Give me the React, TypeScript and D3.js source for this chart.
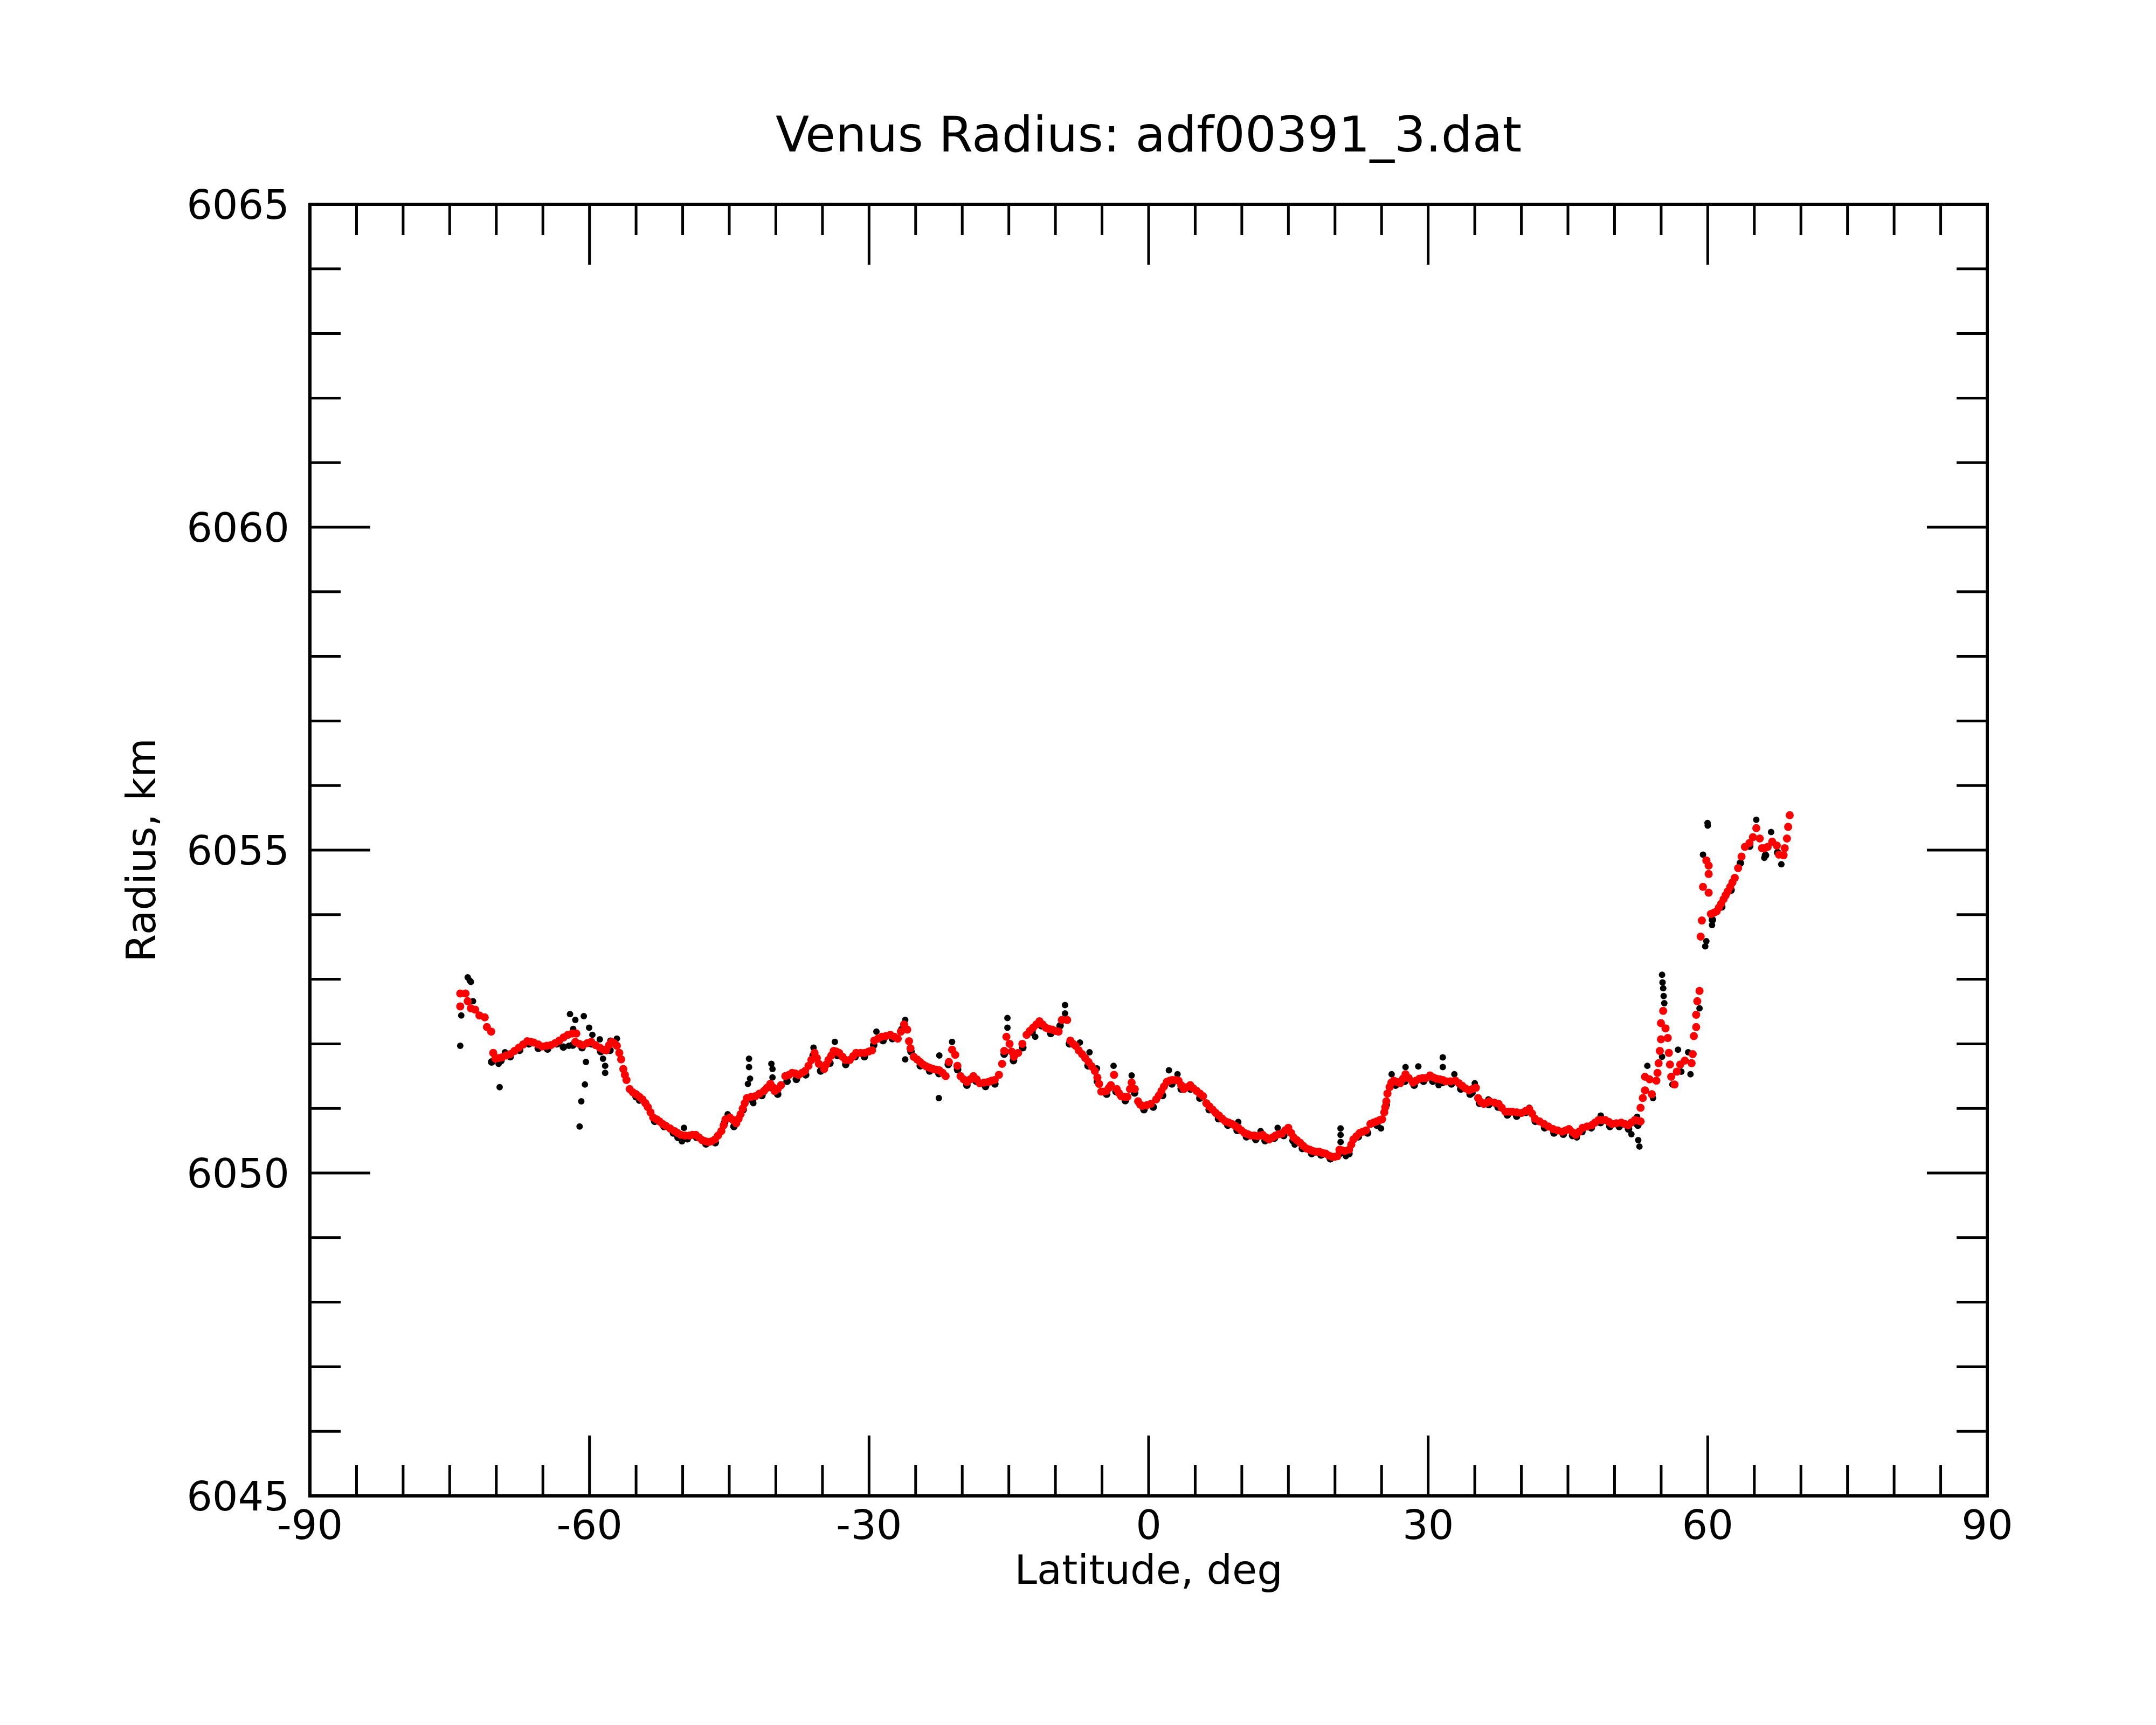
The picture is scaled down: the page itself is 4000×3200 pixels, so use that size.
import React from 'react';
import * as d3 from 'd3';

// smoothed radius profile (red), [latitude deg, radius km]
const redTrace: [number, number][] = [
  [-73.87, 6052.58], [-73.87, 6052.78], [-73.3, 6052.78], [-73.07, 6052.66], [-72.73, 6052.55],
  [-72.27, 6052.53], [-71.81, 6052.44], [-71.24, 6052.41], [-71.01, 6052.26], [-70.55, 6052.19],
  [-70.33, 6051.86], [-70.1, 6051.77], [-69.75, 6051.78], [-69.41, 6051.79], [-68.95, 6051.82],
  [-68.5, 6051.84], [-68.05, 6051.89], [-67.58, 6051.94], [-67.12, 6051.99], [-66.67, 6052.04],
  [-66.3, 6052.03], [-65.98, 6052.02], [-65.5, 6051.99], [-65.07, 6051.96], [-64.6, 6051.97],
  [-64.15, 6051.98], [-63.7, 6052.01], [-63.24, 6052.05], [-62.78, 6052.1], [-62.32, 6052.14],
  [-61.85, 6052.16], [-61.41, 6052.16], [-61.52, 6052.03], [-61.1, 6052.0], [-60.72, 6051.98],
  [-60.25, 6052.01], [-59.81, 6052.03], [-59.35, 6051.98], [-58.89, 6051.94], [-58.5, 6051.91],
  [-58.2, 6051.9], [-57.9, 6051.98], [-57.63, 6052.03], [-57.35, 6052.01], [-57.06, 6051.97],
  [-56.8, 6051.86], [-56.6, 6051.76], [-56.37, 6051.61], [-56.2, 6051.52], [-56.03, 6051.44],
  [-55.69, 6051.3], [-55.35, 6051.25], [-55.0, 6051.22], [-54.65, 6051.18], [-54.32, 6051.14],
  [-54.0, 6051.08], [-53.74, 6051.02], [-53.45, 6050.94], [-53.17, 6050.86], [-52.8, 6050.83],
  [-52.49, 6050.8], [-52.15, 6050.76], [-51.8, 6050.73], [-51.35, 6050.69], [-50.88, 6050.65],
  [-50.55, 6050.62], [-50.2, 6050.59], [-49.75, 6050.58], [-49.28, 6050.58], [-48.95, 6050.59],
  [-48.6, 6050.59], [-48.25, 6050.55], [-47.91, 6050.51], [-47.55, 6050.49], [-47.22, 6050.48],
  [-46.9, 6050.49], [-46.54, 6050.52], [-46.2, 6050.58], [-45.85, 6050.65], [-45.6, 6050.74],
  [-45.4, 6050.83], [-44.94, 6050.86], [-44.6, 6050.82], [-44.25, 6050.77], [-44.0, 6050.84],
  [-43.79, 6050.91], [-43.55, 6051.0], [-43.34, 6051.08], [-43.11, 6051.16], [-42.65, 6051.18],
  [-42.19, 6051.19], [-41.75, 6051.23], [-41.28, 6051.27], [-40.95, 6051.32], [-40.59, 6051.38],
  [-40.35, 6051.33], [-40.13, 6051.27], [-39.8, 6051.3], [-39.45, 6051.36], [-38.99, 6051.5],
  [-38.6, 6051.52], [-38.25, 6051.55], [-37.9, 6051.54], [-37.56, 6051.52], [-37.2, 6051.55],
  [-36.87, 6051.58], [-36.5, 6051.66], [-36.19, 6051.75], [-35.85, 6051.86], [-35.6, 6051.78],
  [-35.39, 6051.69], [-34.82, 6051.61], [-34.6, 6051.68], [-34.36, 6051.75], [-34.05, 6051.82],
  [-33.79, 6051.89], [-33.5, 6051.88], [-33.21, 6051.86], [-32.85, 6051.8], [-32.53, 6051.75],
  [-32.07, 6051.75], [-31.7, 6051.81], [-31.38, 6051.86], [-30.9, 6051.86], [-30.47, 6051.86],
  [-30.05, 6051.88], [-29.67, 6051.9], [-29.44, 6052.05], [-29.05, 6052.08], [-28.64, 6052.11],
  [-28.2, 6052.12], [-27.72, 6052.14], [-27.3, 6052.11], [-26.92, 6052.08], [-26.58, 6052.19],
  [-26.24, 6052.3], [-25.9, 6052.22], [-25.71, 6052.04], [-25.55, 6051.93], [-25.21, 6051.8],
  [-24.85, 6051.76], [-24.52, 6051.72], [-24.2, 6051.68], [-23.84, 6051.65], [-23.5, 6051.63],
  [-23.15, 6051.61], [-22.8, 6051.6], [-22.46, 6051.59], [-22.1, 6051.55], [-21.78, 6051.5],
  [-21.43, 6051.72], [-21.09, 6051.91], [-20.75, 6051.83], [-20.52, 6051.66], [-20.18, 6051.5],
  [-19.85, 6051.45], [-19.49, 6051.41], [-19.15, 6051.45], [-18.8, 6051.5], [-18.45, 6051.45],
  [-18.12, 6051.39], [-17.65, 6051.4], [-17.2, 6051.41], [-16.85, 6051.43], [-16.52, 6051.44],
  [-16.06, 6051.52], [-15.72, 6051.69], [-15.49, 6051.89], [-15.26, 6052.11], [-14.92, 6052.0],
  [-14.7, 6051.88], [-14.46, 6051.8], [-14.0, 6051.86], [-13.55, 6052.0], [-13.09, 6052.14],
  [-12.75, 6052.2], [-12.4, 6052.25], [-12.05, 6052.3], [-11.71, 6052.35], [-11.37, 6052.3],
  [-11.03, 6052.25], [-10.7, 6052.23], [-10.34, 6052.22], [-10.0, 6052.2], [-9.66, 6052.19],
  [-9.31, 6052.37], [-8.74, 6052.37], [-8.4, 6052.05], [-8.1, 6052.0], [-7.83, 6051.97],
  [-7.5, 6051.9], [-7.14, 6051.84], [-6.8, 6051.78], [-6.45, 6051.72], [-6.1, 6051.65],
  [-5.77, 6051.58], [-5.5, 6051.48], [-5.31, 6051.38], [-5.08, 6051.26], [-4.8, 6051.26],
  [-4.51, 6051.27], [-4.25, 6051.32], [-4.05, 6051.36], [-3.71, 6051.52], [-3.42, 6051.3],
  [-3.2, 6051.24], [-2.96, 6051.19], [-2.6, 6051.18], [-2.28, 6051.18], [-2.0, 6051.3],
  [-1.82, 6051.4], [-1.48, 6051.3], [-1.13, 6051.11], [-0.9, 6051.06], [-0.68, 6051.04],
  [-0.2, 6051.05], [0.24, 6051.07], [0.81, 6051.14], [1.1, 6051.2], [1.38, 6051.27],
  [1.65, 6051.34], [1.95, 6051.41], [2.25, 6051.43], [2.53, 6051.44], [2.9, 6051.44],
  [3.21, 6051.43], [3.5, 6051.36], [3.78, 6051.3], [4.12, 6051.33], [4.47, 6051.36],
  [4.8, 6051.31], [5.16, 6051.27], [5.5, 6051.23], [5.84, 6051.19], [6.19, 6051.08],
  [6.52, 6051.03], [6.87, 6050.98], [7.2, 6050.93], [7.56, 6050.89], [7.9, 6050.84],
  [8.24, 6050.8], [8.6, 6050.78], [8.93, 6050.76], [9.3, 6050.73], [9.62, 6050.7],
  [9.95, 6050.66], [10.3, 6050.62], [10.65, 6050.6], [10.99, 6050.58], [11.35, 6050.58],
  [11.67, 6050.57], [11.95, 6050.58], [12.25, 6050.59], [12.6, 6050.55], [12.93, 6050.52],
  [13.3, 6050.55], [13.62, 6050.58], [13.95, 6050.6], [14.31, 6050.61], [14.65, 6050.66],
  [14.99, 6050.7], [15.3, 6050.62], [15.56, 6050.55], [15.9, 6050.51], [16.25, 6050.47],
  [16.6, 6050.42], [16.94, 6050.38], [17.3, 6050.36], [17.62, 6050.34], [17.95, 6050.33],
  [18.31, 6050.33], [18.65, 6050.31], [19.0, 6050.3], [19.35, 6050.27], [19.68, 6050.25],
  [19.95, 6050.25], [20.25, 6050.26], [20.48, 6050.36], [20.75, 6050.35], [21.05, 6050.34],
  [21.51, 6050.36], [21.75, 6050.44], [21.97, 6050.52], [22.3, 6050.57], [22.65, 6050.62],
  [23.0, 6050.64], [23.34, 6050.66], [23.8, 6050.76], [24.15, 6050.78], [24.48, 6050.8],
  [24.8, 6050.82], [25.06, 6050.83], [25.29, 6050.94], [25.4, 6051.02], [25.51, 6051.11],
  [25.63, 6051.23], [25.86, 6051.33], [26.05, 6051.4], [26.31, 6051.43], [26.65, 6051.41],
  [27.0, 6051.39], [27.3, 6051.46], [27.57, 6051.53], [27.91, 6051.47], [28.37, 6051.4],
  [28.7, 6051.43], [29.06, 6051.46], [29.4, 6051.47], [29.74, 6051.47], [30.2, 6051.51],
  [30.55, 6051.48], [30.89, 6051.46], [31.25, 6051.45], [31.57, 6051.44], [31.9, 6051.42],
  [32.4, 6051.42], [32.93, 6051.43], [33.3, 6051.39], [33.66, 6051.35], [34.0, 6051.31],
  [34.39, 6051.28], [34.75, 6051.3], [35.12, 6051.32], [35.36, 6051.16], [35.65, 6051.1],
  [35.97, 6051.07], [36.3, 6051.09], [36.58, 6051.11], [37.1, 6051.09], [37.56, 6051.07],
  [37.9, 6051.01], [38.29, 6050.95], [38.65, 6050.95], [39.02, 6050.95], [39.5, 6050.94],
  [40.0, 6050.93], [40.45, 6050.96], [40.85, 6050.99], [41.15, 6050.92], [41.46, 6050.84],
  [41.95, 6050.8], [42.43, 6050.76], [42.9, 6050.72], [43.41, 6050.68], [43.9, 6050.66],
  [44.38, 6050.64], [44.75, 6050.66], [45.11, 6050.68], [45.5, 6050.63], [45.84, 6050.59],
  [46.2, 6050.64], [46.57, 6050.7], [47.05, 6050.72], [47.55, 6050.74], [47.9, 6050.78],
  [48.28, 6050.82], [48.65, 6050.82], [49.01, 6050.82], [49.4, 6050.79], [49.74, 6050.76],
  [50.2, 6050.77], [50.72, 6050.78], [51.1, 6050.76], [51.45, 6050.74], [51.8, 6050.78],
  [52.18, 6050.82], [52.5, 6050.81], [52.79, 6050.8], [52.79, 6051.01], [53.03, 6051.16],
  [53.27, 6051.28], [53.27, 6051.49], [53.76, 6051.45], [54.0, 6051.22], [54.49, 6051.43],
  [54.61, 6051.55], [54.73, 6051.7], [54.86, 6051.89], [54.98, 6052.07], [54.98, 6052.32],
  [55.22, 6052.51], [55.47, 6052.24], [55.71, 6052.09], [55.83, 6051.86], [55.95, 6051.68],
  [56.08, 6051.49], [56.44, 6051.37], [56.69, 6051.57], [57.05, 6051.68], [57.54, 6051.74],
  [58.27, 6051.7], [58.39, 6051.84], [58.51, 6052.12], [58.76, 6052.26], [58.76, 6052.45],
  [58.88, 6052.66], [59.12, 6052.82], [59.24, 6053.66], [59.37, 6053.91], [59.49, 6054.43],
  [59.85, 6054.84], [60.1, 6054.76], [60.1, 6054.63], [60.1, 6054.34], [60.34, 6054.01],
  [60.65, 6054.03], [60.95, 6054.05], [61.2, 6054.11], [61.44, 6054.17], [61.7, 6054.24],
  [61.92, 6054.3], [62.15, 6054.36], [62.41, 6054.43], [62.65, 6054.5], [62.9, 6054.57],
  [63.26, 6054.72], [63.63, 6054.9], [63.99, 6055.05], [64.48, 6055.11], [64.85, 6055.2],
  [65.21, 6055.34], [65.58, 6055.18], [65.82, 6055.03], [66.1, 6055.03], [66.43, 6055.05],
  [66.92, 6055.13], [67.41, 6055.07], [67.65, 6054.93], [68.14, 6054.92], [68.26, 6055.03],
  [68.5, 6055.18], [68.63, 6055.36], [68.8, 6055.54],
];

// raw radius samples (black) lying just under the red profile
const blackTrace: [number, number][] = [
  [-70.5, 6051.72], [-69.5, 6051.74], [-68.5, 6051.8], [-67.5, 6051.9], [-66.5, 6052.0],
  [-65.5, 6051.93], [-64.5, 6051.92], [-63.5, 6052.0], [-62.8, 6051.95], [-61.8, 6051.98],
  [-60.8, 6051.94], [-59.8, 6052.0], [-58.8, 6051.88], [-57.8, 6051.9], [-55.0, 6051.18],
  [-54.0, 6051.08], [-53.0, 6050.8], [-52.0, 6050.72], [-51.0, 6050.62], [-50.5, 6050.55],
  [-49.5, 6050.53], [-48.5, 6050.55], [-47.5, 6050.45], [-46.5, 6050.47], [-45.5, 6050.78],
  [-44.5, 6050.72], [-43.5, 6050.98], [-42.5, 6051.12], [-41.5, 6051.2], [-40.5, 6051.32],
  [-39.8, 6051.22], [-38.8, 6051.42], [-37.8, 6051.45], [-36.8, 6051.52], [-36.0, 6051.82],
  [-35.2, 6051.58], [-34.2, 6051.7], [-33.4, 6051.82], [-32.5, 6051.68], [-31.5, 6051.8],
  [-30.5, 6051.8], [-29.5, 6051.98], [-28.5, 6052.05], [-27.5, 6052.08], [-26.5, 6052.22],
  [-25.5, 6051.88], [-24.5, 6051.66], [-23.5, 6051.58], [-22.5, 6051.54], [-21.5, 6051.68],
  [-20.5, 6051.6], [-19.5, 6051.36], [-18.5, 6051.42], [-17.5, 6051.34], [-16.5, 6051.38],
  [-15.5, 6051.84], [-14.5, 6051.74], [-13.5, 6051.94], [-12.5, 6052.18], [-11.5, 6052.28],
  [-10.5, 6052.16], [-9.5, 6052.28], [-8.5, 6052.0], [-7.5, 6051.9], [-6.5, 6051.66],
  [-5.5, 6051.42], [-4.5, 6051.22], [-3.5, 6051.26], [-2.5, 6051.12], [-1.5, 6051.24],
  [-0.5, 6050.98], [0.5, 6051.02], [1.5, 6051.2], [2.5, 6051.38], [3.5, 6051.3],
  [4.5, 6051.3], [5.5, 6051.16], [6.5, 6050.98], [7.5, 6050.84], [8.5, 6050.74],
  [9.5, 6050.66], [10.5, 6050.56], [11.5, 6050.52], [12.5, 6050.5], [13.5, 6050.54],
  [14.5, 6050.58], [15.5, 6050.5], [16.5, 6050.38], [17.5, 6050.3], [18.5, 6050.28],
  [19.5, 6050.22], [20.5, 6050.3], [21.5, 6050.3], [22.5, 6050.56], [23.5, 6050.62],
  [24.5, 6050.74], [25.5, 6051.06], [26.5, 6051.36], [27.5, 6051.42], [28.5, 6051.36],
  [29.5, 6051.42], [30.5, 6051.42], [31.5, 6051.4], [32.5, 6051.38], [33.5, 6051.3],
  [34.5, 6051.22], [35.5, 6051.08], [36.5, 6051.06], [37.5, 6051.02], [38.5, 6050.9],
  [39.5, 6050.88], [40.5, 6050.94], [41.5, 6050.8], [42.5, 6050.7], [43.5, 6050.62],
  [44.5, 6050.6], [45.5, 6050.58], [46.5, 6050.64], [47.5, 6050.7], [48.5, 6050.78],
  [49.5, 6050.72], [50.5, 6050.72], [51.5, 6050.68], [52.5, 6050.74], [60.5, 6053.92],
  [61.5, 6054.12], [62.5, 6054.38], [63.5, 6054.8], [64.5, 6055.06], [66.2, 6054.92],
  [67.5, 6054.96],
];

// raw samples (black) that stand away from the red profile
const blackOutliers: [number, number][] = [
  [-73.87, 6051.97], [-73.76, 6052.44], [-73.07, 6053.03], [-72.85, 6052.98], [-72.73, 6052.96],
  [-72.5, 6052.66], [-69.75, 6051.69], [-69.64, 6051.33], [-69.07, 6051.87], [-62.21, 6051.97],
  [-62.09, 6052.46], [-61.75, 6052.23], [-61.52, 6052.37], [-61.06, 6050.72], [-60.88, 6051.11],
  [-60.61, 6052.43], [-60.49, 6051.37], [-60.38, 6051.72], [-60.04, 6052.25], [-59.69, 6052.14],
  [-58.89, 6052.07], [-58.55, 6051.77], [-58.32, 6051.66], [-58.32, 6051.55], [-57.75, 6052.05],
  [-57.06, 6052.08], [-54.66, 6051.12], [-50.08, 6050.49], [-49.86, 6050.7], [-45.17, 6050.91],
  [-43.0, 6051.38], [-42.88, 6051.77], [-42.88, 6051.64], [-42.77, 6051.46], [-42.42, 6051.08],
  [-40.48, 6051.69], [-40.36, 6051.61], [-40.36, 6051.48], [-35.96, 6051.94], [-33.67, 6052.03],
  [-29.21, 6052.19], [-26.12, 6052.37], [-26.12, 6051.76], [-22.46, 6051.82], [-22.51, 6051.16],
  [-21.09, 6052.03], [-15.15, 6052.4], [-15.15, 6052.25], [-12.17, 6052.11], [-8.97, 6052.6],
  [-8.97, 6052.47], [-7.37, 6052.02], [-6.34, 6051.87], [-5.54, 6051.62], [-3.76, 6051.66],
  [-1.82, 6051.51], [2.18, 6051.59], [3.1, 6051.53], [9.62, 6050.79], [12.02, 6050.65],
  [13.85, 6050.7], [15.68, 6050.44], [20.6, 6050.69], [20.6, 6050.59], [20.6, 6050.48],
  [21.17, 6050.26], [24.94, 6050.69], [26.08, 6051.53], [27.57, 6051.64], [28.94, 6051.65],
  [31.57, 6051.79], [31.57, 6051.64], [31.12, 6051.36], [32.81, 6051.53], [34.76, 6051.24],
  [35.0, 6051.39], [36.46, 6051.14], [40.85, 6051.01], [45.96, 6050.55], [48.52, 6050.89],
  [51.81, 6050.6], [52.42, 6050.87], [52.54, 6050.51], [52.67, 6050.41], [53.52, 6051.66],
  [54.13, 6051.16], [55.1, 6053.07], [55.15, 6052.95], [55.22, 6052.86], [55.27, 6052.74],
  [55.34, 6052.63], [55.1, 6051.8], [56.2, 6051.37], [56.81, 6051.91], [57.17, 6051.57],
  [57.9, 6051.87], [58.15, 6051.53], [59.12, 6052.55], [59.49, 6054.93], [59.73, 6053.51],
  [59.85, 6053.59], [59.98, 6055.42], [60.0, 6055.38], [60.46, 6053.84], [65.21, 6055.47],
  [66.07, 6054.88], [66.8, 6055.28], [67.9, 6054.78],
];

const xTickLabels = [-90, -60, -30, 0, 30, 60, 90];
const yTickLabels = [6045, 6050, 6055, 6060, 6065];

const W = 4000;
const H = 3200;
const plot = { left: 575, right: 3687, top: 379, bottom: 2775 };
const font = '"DejaVu Sans", Verdana, sans-serif';

export default function App() {
  const x = d3.scaleLinear().domain([-90, 90]).range([plot.left, plot.right]);
  const y = d3.scaleLinear().domain([6045, 6065]).range([plot.bottom, plot.top]);

  const xMinor = d3.range(-90, 90.01, 5);
  const yMinor = d3.range(6045, 6065.01, 1);
  const minorLen = 57;
  const majorLen = 112;

  const xTicks = xMinor.map((v) => {
    const major = v % 30 === 0;
    const len = major ? majorLen : minorLen;
    const px = x(v);
    return (
      <g key={`xt${v}`}>
        <line x1={px} x2={px} y1={plot.bottom} y2={plot.bottom - len} />
        <line x1={px} x2={px} y1={plot.top} y2={plot.top + len} />
      </g>
    );
  });

  const yTicks = yMinor.map((v) => {
    const major = v % 5 === 0;
    const len = major ? majorLen : minorLen;
    const py = y(v);
    return (
      <g key={`yt${v}`}>
        <line x1={plot.left} x2={plot.left + len} y1={py} y2={py} />
        <line x1={plot.right} x2={plot.right - len} y1={py} y2={py} />
      </g>
    );
  });

  return (
    <svg
      width={W}
      height={H}
      viewBox={`0 0 ${W} ${H}`}
      style={{ position: 'absolute', left: 0, top: 0, background: '#fff' }}
    >
      <rect x={0} y={0} width={W} height={H} fill="#fff" />

      <g fill="#000">
        {blackTrace.map(([lat, r], i) => (
          <circle key={`bt${i}`} cx={x(lat)} cy={y(r)} r={7} />
        ))}
        {blackOutliers.map(([lat, r], i) => (
          <circle key={`bo${i}`} cx={x(lat)} cy={y(r)} r={6} />
        ))}
      </g>
      <g fill="#ff0000">
        {redTrace.map(([lat, r], i) => (
          <circle key={`rd${i}`} cx={x(lat)} cy={y(r)} r={7.5} />
        ))}
      </g>

      <g stroke="#000" strokeWidth={5} strokeLinecap="butt">
        {xTicks}
        {yTicks}
      </g>
      <rect
        x={plot.left}
        y={plot.top}
        width={plot.right - plot.left}
        height={plot.bottom - plot.top}
        fill="none"
        stroke="#000"
        strokeWidth={6}
      />

      <g fontFamily={font} fontSize={75} fill="#000">
        {xTickLabels.map((v) => (
          <text key={`xl${v}`} x={x(v)} y={2855} textAnchor="middle">
            {v}
          </text>
        ))}
        {yTickLabels.map((v) => (
          <text key={`yl${v}`} x={537} y={y(v) + 27} textAnchor="end">
            {v}
          </text>
        ))}
        <text x={(plot.left + plot.right) / 2} y={2938} textAnchor="middle">
          Latitude, deg
        </text>
        <text
          transform={`translate(288, ${(plot.top + plot.bottom) / 2}) rotate(-90)`}
          textAnchor="middle"
        >
          Radius, km
        </text>
      </g>
      <text
        x={(plot.left + plot.right) / 2}
        y={281}
        textAnchor="middle"
        fontFamily={font}
        fontSize={91}
        fill="#000"
      >
        Venus Radius: adf00391_3.dat
      </text>
    </svg>
  );
}
